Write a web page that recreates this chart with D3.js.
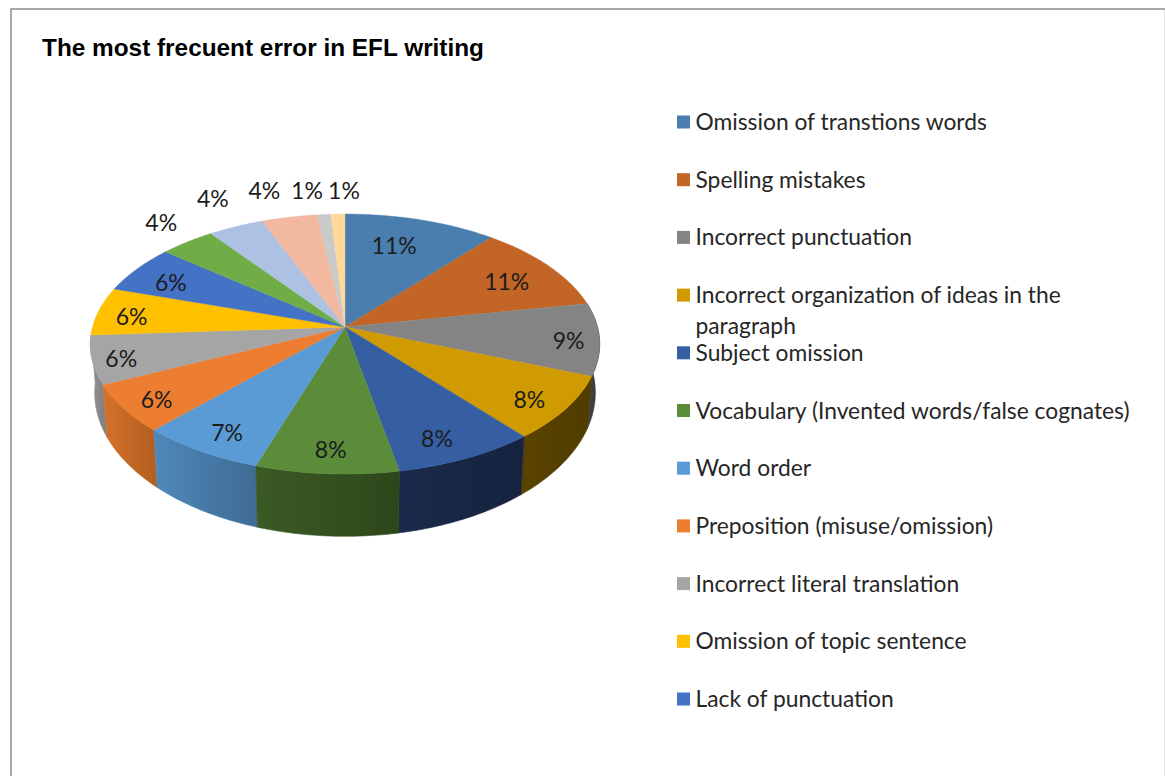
<!DOCTYPE html>
<html>
<head>
<meta charset="utf-8">
<title>The most frecuent error in EFL writing</title>
<script src="https://cdn.jsdelivr.net/npm/d3@7"></script>
<style>
  html, body { margin: 0; padding: 0; background: #fff; overflow: hidden; }
  svg { display: block; }
</style>
</head>
<body>
<script>
// Share of each error type, in percent, clockwise from twelve o'clock.
const percentages = [11, 11, 9, 8, 8, 8, 7, 6, 6, 6, 6, 4, 4, 4, 1, 1];

// Only the first eleven categories fit in the legend.
const legendCategories = [
  ["Omission of transtions words"],
  ["Spelling mistakes"],
  ["Incorrect punctuation"],
  ["Incorrect organization of ideas in the", "paragraph"],
  ["Subject omission"],
  ["Vocabulary (Invented words/false cognates)"],
  ["Word order"],
  ["Preposition (misuse/omission)"],
  ["Incorrect literal translation"],
  ["Omission of topic sentence"],
  ["Lack of punctuation"]
];

const topColors = ["#4a7eae", "#c26526", "#848484", "#d09b00", "#365ea2", "#5b8c3a",
  "#5b9bd5", "#ed7d31", "#a5a5a5", "#ffc000", "#4472c4", "#70ad47",
  "#adc2e2", "#f2b8a0", "#c9c9c9", "#ffd89a"];
const sideColorsLeft = ["#355a7c", "#8a481b", "#454545", "#5a4300", "#1a2a4a", "#3b5a24",
  "#4f88ba", "#d4722b", "#949494", "#b38600", "#2f5088", "#4e7a32",
  "#7a8aa0", "#aa8270", "#8e8e8e", "#b39a6c"];
const sideColorsRight = ["#2c4b67", "#733c16", "#363636", "#503c00", "#16233f", "#2d461a",
  "#3f6c95", "#b55f20", "#828282", "#8f6b00", "#26406d", "#3e6228",
  "#626e80", "#88685a", "#727272", "#8f7b56"];

// Per-label offset from the slice's rim point to the label centre.
const labelOffsets = [[-27, 25], [-42, 15], [-31, 1], [-37, -9], [-30, -20], [4, -25],
  [27, -19], [33, -9], [29, -2], [33, 5], [34, 13],
  [-26, -20], [-23, -29], [-25, -27], [-17, -24], [6, -24]];

const width = 1165, height = 776;
const cx = 345, cy = 327;      // projected centre of the disc
const radiusX = 252.5, radiusY = 127.8;
const perspective = 0.131;     // shrink factor from front to back
const baseDepth = 47;

const svg = d3.select("body").append("svg")
  .attr("width", width).attr("height", height)
  .attr("font-family", "Lato, 'Noto Sans', sans-serif");

// Chart frame: dark on the top and left, pale on the right.
svg.append("path")
  .attr("d", d3.line()([[11, height], [11, 9], [width, 9]]))
  .attr("fill", "none").attr("stroke", "#8c8c8c").attr("stroke-width", 1.5);
svg.append("path")
  .attr("d", d3.line()([[1164.5, 10], [1164.5, height]]))
  .attr("fill", "none").attr("stroke", "#e3e3e3").attr("stroke-width", 1);

svg.append("text")
  .attr("x", 42).attr("y", 55.5)
  .attr("font-family", "'Liberation Sans', Arial, sans-serif")
  .attr("font-weight", 700).attr("font-size", 24.5).attr("fill", "#000")
  .attr("textLength", 442).attr("lengthAdjust", "spacingAndGlyphs")
  .text("The most frecuent error in EFL writing");

// Perspective mapping of a point on the disc: angle clockwise from the top.
function project(theta, fraction = 1) {
  const sin = Math.sin(theta), cos = Math.cos(theta);
  const s = 1 / (1 + perspective * fraction * cos);
  return { x: cx + radiusX * fraction * sin * s, y: cy - radiusY * fraction * cos * s, s };
}
function projectBase(theta) {
  const p = project(theta);
  return [cx + (p.x - cx) * 0.983, p.y + baseDepth * p.s * p.s];
}

const slices = d3.pie().sort(null).startAngle(0).endAngle(2 * Math.PI)(percentages);

const defs = svg.append("defs");
const rimSamples = s => d3.range(0, 41).map(i => s.startAngle + (s.endAngle - s.startAngle) * i / 40);

// Sides first, drawn from the back of the disc towards the viewer.
// Slices wholly on the far half show no side at all.
const sideOrder = slices.map((s, i) => ({ s, i }))
  .filter(({ s }) => s.endAngle > Math.PI / 2 && s.startAngle < 1.47 * Math.PI)
  .sort((a, b) => Math.abs((b.s.startAngle + b.s.endAngle) / 2 - Math.PI)
                - Math.abs((a.s.startAngle + a.s.endAngle) / 2 - Math.PI));

sideOrder.forEach(({ s, i }) => {
  const samples = rimSamples(s);
  const xs = samples.map(t => project(t).x);
  const grad = defs.append("linearGradient")
    .attr("id", `side-${i}`).attr("gradientUnits", "userSpaceOnUse")
    .attr("x1", d3.min(xs)).attr("x2", d3.max(xs)).attr("y1", 0).attr("y2", 0);
  grad.append("stop").attr("offset", 0).attr("stop-color", sideColorsLeft[i]);
  grad.append("stop").attr("offset", 1).attr("stop-color", sideColorsRight[i]);

  const top = samples.map(t => { const p = project(t); return [p.x, p.y]; });
  const bottom = samples.map(projectBase).reverse();
  svg.append("path")
    .attr("d", d3.line().curve(d3.curveLinearClosed)(top.concat(bottom)))
    .attr("fill", `url(#side-${i})`)
    .attr("stroke", `url(#side-${i})`).attr("stroke-width", 0.6);
});

// Top face of each slice.
svg.append("g").selectAll("path").data(slices).join("path")
  .attr("d", s => {
    const rim = rimSamples(s).map(t => { const p = project(t); return [p.x, p.y]; });
    return d3.line().curve(d3.curveLinearClosed)([[cx, cy], ...rim]);
  })
  .attr("fill", (s, i) => topColors[i])
  .attr("stroke", (s, i) => topColors[i]).attr("stroke-width", 0.4);

// Percentage labels.
svg.append("g").selectAll("text").data(slices).join("text")
  .attr("x", (s, i) => project((s.startAngle + s.endAngle) / 2).x + labelOffsets[i][0])
  .attr("y", (s, i) => project((s.startAngle + s.endAngle) / 2).y + labelOffsets[i][1])
  .attr("text-anchor", "middle").attr("dominant-baseline", "central")
  .attr("font-size", 23).attr("fill", "#1c1c1c")
  .text(s => `${s.value}%`);

// Legend, evenly spaced down the right-hand side.
const legendY = d3.scaleLinear().domain([0, legendCategories.length - 1]).range([122, 699]);
const legend = svg.append("g").selectAll("g").data(legendCategories).join("g")
  .attr("transform", (d, i) => `translate(0,${legendY(i)})`);
legend.append("rect")
  .attr("x", 677).attr("y", -6.5).attr("width", 13).attr("height", 13)
  .attr("fill", (d, i) => topColors[i]);
legend.each(function (lines) {
  d3.select(this).selectAll("text").data(lines).join("text")
    .attr("x", 695.5).attr("y", (d, j) => j * 31 - 1)
    .attr("dominant-baseline", "central")
    .attr("font-size", 22.8).attr("fill", "#262626")
    .text(d => d);
});
</script>
</body>
</html>
